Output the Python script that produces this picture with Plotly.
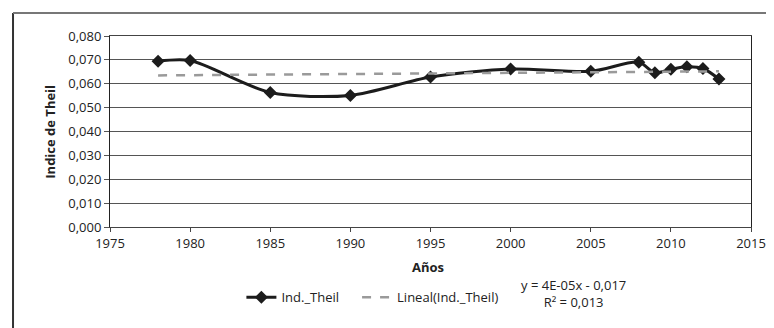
import plotly.graph_objects as go

# Theil index by year
years = [1978, 1980, 1985, 1990, 1995, 2000, 2005, 2008, 2009, 2010, 2011, 2012, 2013]
theil = [0.0694, 0.0697, 0.0563, 0.0551, 0.0628, 0.0662, 0.0652, 0.0690, 0.0646, 0.0661, 0.0671, 0.0664, 0.0620]

# linear trend (Excel "Lineal") endpoints
trend_years = [1978, 2013]
trend_vals = [0.0635, 0.0652]

x_ticks = [1975, 1980, 1985, 1990, 1995, 2000, 2005, 2010, 2015]

FONT = "Open Sans"

fig = go.Figure()

fig.add_trace(go.Scatter(
    x=years, y=theil, name="Ind._Theil\u2003",
    mode="lines+markers",
    line=dict(color="#1c1c1c", width=3, shape="spline", smoothing=0.8),
    marker=dict(symbol="diamond", size=10, color="#1c1c1c"),
))
fig.add_trace(go.Scatter(
    x=trend_years, y=trend_vals, name="Lineal(Ind._Theil)",
    mode="lines",
    line=dict(color="#9a9a9a", width=2.5, dash="dash"),
))

fig.update_layout(
    width=774, height=328,
    margin=dict(l=102, r=31, t=28, b=109),
    paper_bgcolor="white", plot_bgcolor="white",
    separators=",.",
    font=dict(family=FONT, size=13, color="#222"),
    showlegend=True,
    legend=dict(orientation="h", x=0.205, y=-0.29, xanchor="left", yanchor="top",
                font=dict(size=13), bgcolor="rgba(0,0,0,0)", itemwidth=30),
)

fig.update_xaxes(
    range=[1975, 2015], tickvals=x_ticks, showgrid=False,
    showline=True, linecolor="#444", linewidth=1, mirror=True,
    ticks="outside", ticklen=4, tickcolor="#444", zeroline=False,
)
fig.update_yaxes(
    range=[0, 0.08], dtick=0.01, tickformat=".3f",
    showgrid=True, gridcolor="#555", gridwidth=1,
    showline=True, linecolor="#222", linewidth=1, mirror=True,
    ticks="outside", ticklen=5, tickcolor="#555", zeroline=False,
)

# axis titles
fig.add_annotation(text="<b>Años</b>", x=0.496, y=-0.267, xref="paper", yref="paper",
                   showarrow=False, font=dict(size=13, color="#222"))
fig.add_annotation(text="<b>Indice de Theil</b>", x=-0.112, y=0.5, xref="paper", yref="paper",
                   textangle=-90, showarrow=False, font=dict(size=13, color="#222"))

# trend equation
fig.add_annotation(text="y = 4E-05x - 0,017<br>R² = 0,013", x=0.808, y=-0.45,
                   xref="paper", yref="paper", showarrow=False, align="center",
                   font=dict(size=13, color="#222"))

# outer chart frame (left and top edges visible)
fig.add_shape(type="line", xref="paper", yref="paper", x0=-0.1513, x1=-0.1513, y0=-1.0, y1=1.1204,
              line=dict(color="#333", width=2))
fig.add_shape(type="line", xref="paper", yref="paper", x0=-0.1513, x1=1.1, y0=1.1204, y1=1.1204,
              line=dict(color="#777", width=2))

fig.write_html("out.html")
